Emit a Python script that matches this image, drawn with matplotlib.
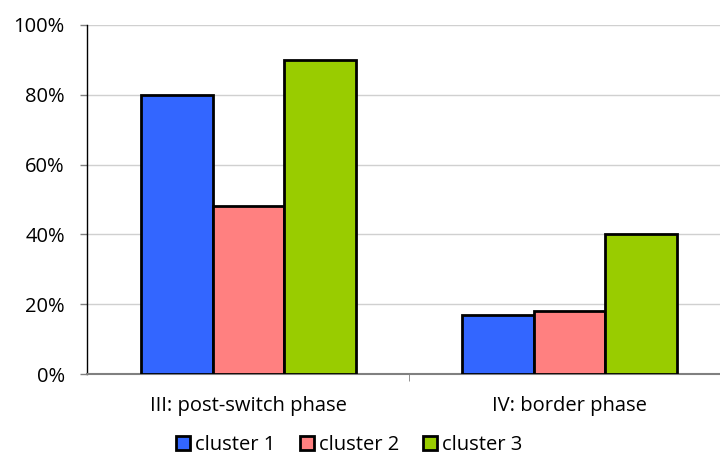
import matplotlib
matplotlib.use("Agg")
import matplotlib.pyplot as plt
import numpy as np

plt.rcParams['font.family'] = ['Open Sans', 'DejaVu Sans']

phases = ["III: post-switch phase", "IV: border phase"]
clusters = ["cluster 1", "cluster 2", "cluster 3"]
cluster1 = [80, 17]
cluster2 = [48, 18]
cluster3 = [90, 40]
colors = ["#3366FF", "#FF8080", "#99CC00"]

fig = plt.figure(figsize=(7.2, 4.59), dpi=100)
ax = fig.add_axes([87/720, 1-374/459, 1-87/720, 349/459])

x = np.arange(len(phases))
w = 0.2233
for k, (vals, c, lab) in enumerate(zip([cluster1, cluster2, cluster3], colors, clusters)):
    ax.bar(x + (k-1)*w, vals, w, color=c, edgecolor='black', linewidth=2.0,
           label=lab, zorder=3)

ax.set_ylim(0, 100)
ax.set_xlim(-0.503, 1.469)
ax.set_yticks(np.arange(0, 101, 20))
ax.set_yticklabels([f"{v}%" for v in range(0, 101, 20)], fontsize=14.5)
ax.yaxis.grid(True, color='#D0D0D0', linewidth=1.0, zorder=0)
ax.set_xticks(x)
ax.set_xticklabels(phases, fontsize=14.5)
ax.tick_params(axis='x', length=0, pad=16)
ax.set_xticks([0.5], minor=True)
ax.tick_params(axis='x', which='minor', length=5, color='#808080')
ax.tick_params(axis='y', length=5, width=1, color='#808080', pad=11)

for s in ['top', 'right']:
    ax.spines[s].set_visible(False)
ax.spines['left'].set_color('black')
ax.spines['left'].set_linewidth(1.0)
ax.spines['bottom'].set_color('#808080')
ax.spines['bottom'].set_linewidth(1.5)

leg = fig.legend(loc='center', bbox_to_anchor=(0.485, 0.03), ncol=3, frameon=False,
                 fontsize=14.5, handlelength=0.7, handleheight=0.7, handletextpad=0.25,
                 columnspacing=1.2, borderpad=0.1)
for h in leg.legend_handles:
    h.set_linewidth(2.0)

fig.savefig("out.png", dpi=100)
